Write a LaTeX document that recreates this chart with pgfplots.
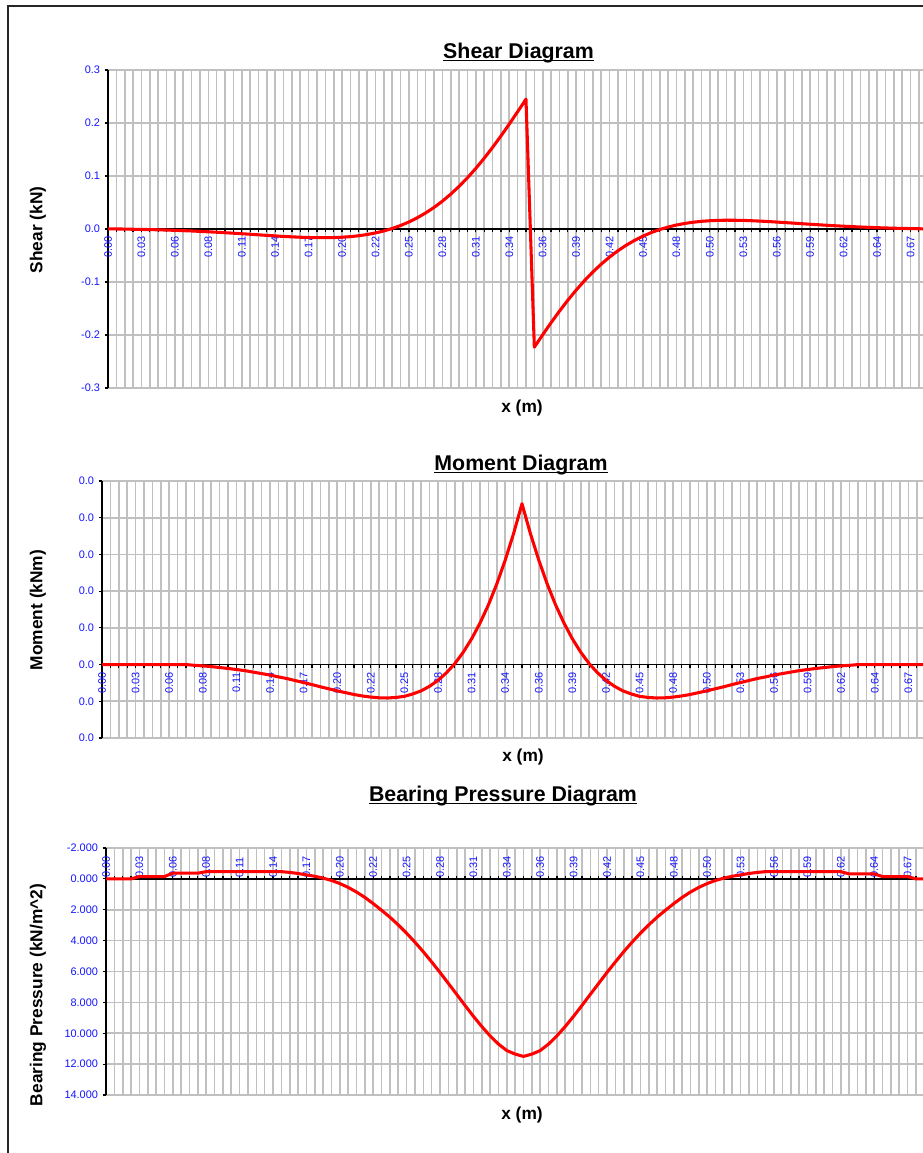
\documentclass[border=0pt]{standalone}
\usepackage{fontspec}
\setmainfont{Liberation Sans}
\usepackage{pgfplots}
\usepackage{pgfplotstable}
\pgfplotsset{compat=1.18}

\definecolor{gridgray}{RGB}{192,192,192}
\definecolor{lblblue}{RGB}{20,20,255}
\definecolor{curvered}{RGB}{255,0,0}

% i = station index, x = i/144 m
\pgfplotstableread{
i shear moment pressure
0 0.0003 0 0
1 0.0001 0 0
2 -0.0001 0 0
3 -0.0005 0 0
4 -0.0008 0 -0.15
5 -0.0011 0 -0.15
6 -0.0015 0 -0.15
7 -0.0020 0 -0.15
8 -0.0025 0 -0.37
9 -0.0031 0 -0.37
10 -0.0037 0 -0.37
11 -0.0045 -0.00004 -0.37
12 -0.0053 -0.00007 -0.47
13 -0.0061 -0.00011 -0.47
14 -0.0070 -0.00016 -0.47
15 -0.0079 -0.00021 -0.47
16 -0.0089 -0.00027 -0.47
17 -0.0099 -0.00033 -0.47
18 -0.0110 -0.00041 -0.47
19 -0.0120 -0.00049 -0.47
20 -0.0130 -0.00057 -0.47
21 -0.0140 -0.00067 -0.47
22 -0.0148 -0.00076 -0.42
23 -0.0155 -0.00087 -0.35
24 -0.0160 -0.00098 -0.26
25 -0.0164 -0.00109 -0.17
26 -0.0164 -0.00121 -0.05
27 -0.0161 -0.00132 0.10
28 -0.0155 -0.00143 0.30
29 -0.0144 -0.00153 0.55
30 -0.0127 -0.00163 0.85
31 -0.0104 -0.00171 1.20
32 -0.0074 -0.00177 1.60
33 -0.0037 -0.00181 2.03
34 0.0010 -0.00182 2.48
35 0.0066 -0.00179 2.98
36 0.0133 -0.00173 3.52
37 0.0212 -0.00160 4.10
38 0.0303 -0.00143 4.72
39 0.0407 -0.00118 5.38
40 0.0525 -0.00086 6.06
41 0.0658 -0.00045 6.77
42 0.0805 0.00005 7.48
43 0.0967 0.00067 8.20
44 0.1144 0.00140 8.90
45 0.1335 0.00226 9.56
46 0.1539 0.00325 10.17
47 0.1754 0.00439 10.70
48 0.1980 0.00569 11.12
49 0.2213 0.00714 11.35
50 0.2450 0.00876 11.50
51 -0.2230 0.00714 11.35
52 -0.1995 0.00569 11.12
53 -0.1768 0.00439 10.70
54 -0.1551 0.00325 10.17
55 -0.1345 0.00226 9.56
56 -0.1153 0.00140 8.90
57 -0.0974 0.00067 8.20
58 -0.0811 0.00005 7.48
59 -0.0663 -0.00045 6.77
60 -0.0529 -0.00086 6.06
61 -0.0410 -0.00118 5.38
62 -0.0305 -0.00143 4.72
63 -0.0214 -0.00160 4.10
64 -0.0134 -0.00173 3.52
65 -0.0066 -0.00179 2.98
66 -0.0010 -0.00182 2.48
67 0.0037 -0.00181 2.03
68 0.0075 -0.00177 1.60
69 0.0105 -0.00171 1.20
70 0.0128 -0.00163 0.85
71 0.0145 -0.00153 0.55
72 0.0156 -0.00143 0.30
73 0.0163 -0.00132 0.10
74 0.0166 -0.00121 -0.05
75 0.0165 -0.00109 -0.17
76 0.0162 -0.00098 -0.26
77 0.0156 -0.00087 -0.35
78 0.0149 -0.00076 -0.42
79 0.0141 -0.00067 -0.47
80 0.0131 -0.00057 -0.47
81 0.0121 -0.00049 -0.47
82 0.0111 -0.00041 -0.47
83 0.0100 -0.00033 -0.47
84 0.0090 -0.00027 -0.47
85 0.0080 -0.00021 -0.47
86 0.0070 -0.00016 -0.47
87 0.0061 -0.00011 -0.47
88 0.0053 -0.00007 -0.47
89 0.0045 -0.00004 -0.32
90 0.0038 0 -0.32
91 0.0031 0 -0.32
92 0.0025 0 -0.32
93 0.0020 0 -0.15
94 0.0015 0 -0.15
95 0.0011 0 -0.15
96 0.0008 0 -0.15
97 0.0005 0 0
98 0.0001 0 0
99 -0.0001 0 0
}\beamdata

\pgfplotsset{
  diagram/.style={
    scale only axis,
    anchor=south west,
    xmin=0, xmax=99,
    axis x line=middle, axis y line=left,
    axis line style={-, black, line width=1.1pt},
    hide obscured x ticks=false, hide obscured y ticks=false,
    xtick={0,4,...,96},
    xticklabels={0.00,0.03,0.06,0.08,0.11,0.14,0.17,0.20,0.22,0.25,0.28,0.31,0.34,0.36,0.39,0.42,0.45,0.48,0.50,0.53,0.56,0.59,0.62,0.64,0.67},
    minor xtick={0,...,99},
    xmajorgrids, xminorgrids, ymajorgrids,
    major grid style={gridgray, line width=1.2pt},
    minor grid style={gridgray, line width=1.2pt},
    tick style={black, line width=0.9pt},
    tick align=outside,
    major tick length=2.5pt, minor tick length=2.5pt,
    tick label style={font=\fontsize{8.2}{9}\selectfont, text=lblblue},
    scaled y ticks=false,
  },
  curve/.style={curvered, line width=2.3pt, line join=round, no markers},
}

\tikzset{
  charttitle/.style={font=\fontsize{16}{18}\selectfont\bfseries, anchor=base},
  axtitle/.style={font=\fontsize{13}{15}\selectfont\bfseries},
}

\begin{document}
\begin{tikzpicture}
\useasboundingbox (0pt,0pt) rectangle (692.25pt,-864.75pt);
\begin{scope}
\clip (0pt,0pt) rectangle (692.25pt,-864.75pt);
\draw[line width=1pt, black!85] (6pt,-900pt) -- (6pt,-4.5pt) -- (760pt,-4.5pt);

% Shear
\begin{axis}[diagram,
  at={(81pt,-291pt)}, width=620.7pt, height=238.5pt,
  ymin=-0.3, ymax=0.3,
  ytick={-0.3,-0.2,-0.1,0,0.1,0.2,0.3},
  yticklabels={-0.3,-0.2,-0.1,0.0,0.1,0.2,0.3},
  xticklabel style={rotate=90, anchor=east, inner sep=1pt, xshift=-2pt},
]
\addplot[curve] table[x=i, y=shear] {\beamdata};
\end{axis}
\node[charttitle] at (388.9pt,-43.5pt) {\underline{\smash{Shear Diagram}}};
\node[axtitle] at (391.5pt,-306pt) {x (m)};
\node[axtitle, rotate=90] at (28.5pt,-172.5pt) {Shear (kN)};

% Moment
\begin{axis}[diagram,
  at={(76.5pt,-553.5pt)}, width=623.7pt, height=192.75pt,
  ymin=-0.004, ymax=0.010,
  ytick={-0.004,-0.002,0,0.002,0.004,0.006,0.008,0.010},
  yticklabels={0.0,0.0,0.0,0.0,0.0,0.0,0.0,0.0},
  xticklabel style={rotate=90, anchor=east, inner sep=1pt, xshift=-2pt},
]
\addplot[curve] table[x=i, y=moment] {\beamdata};
\end{axis}
\node[charttitle] at (390.75pt,-352.5pt) {\underline{\smash{Moment Diagram}}};
\node[axtitle] at (392.25pt,-567.75pt) {x (m)};
\node[axtitle, rotate=90] at (28.5pt,-457.5pt) {Moment (kNm)};

% Bearing pressure
\begin{axis}[diagram,
  at={(79.5pt,-821.25pt)}, width=620pt, height=185.25pt,
  y dir=reverse,
  ymin=-2, ymax=14,
  ytick={-2,0,2,4,6,8,10,12,14},
  yticklabels={-2.000,0.000,2.000,4.000,6.000,8.000,10.000,12.000,14.000},
  xticklabel style={rotate=90, anchor=west, inner sep=1pt, xshift=2pt},
]
\addplot[curve] table[x=i, y=pressure] {\beamdata};
\end{axis}
\node[charttitle] at (377.25pt,-600.75pt) {\underline{\smash{Bearing Pressure Diagram}}};
\node[axtitle] at (391.5pt,-836.25pt) {x (m)};
\node[axtitle, rotate=90] at (28.5pt,-746.25pt) {Bearing Pressure (kN/m\^{}2)};
\end{scope}
\end{tikzpicture}
\end{document}
